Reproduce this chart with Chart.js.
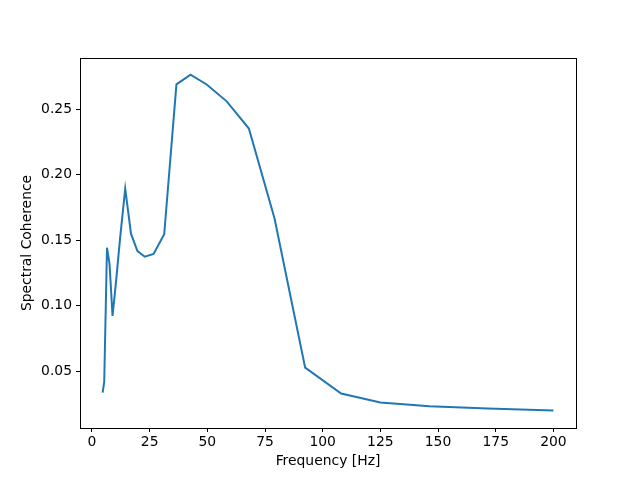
<!DOCTYPE html>
<html>
<head>
<meta charset="utf-8">
<script src="https://cdn.jsdelivr.net/npm/chart.js@4/dist/chart.umd.min.js"></script>
<style>
    body { margin: 0; background: #fff; }
    canvas { display: block; }
</style>
</head>
<body>
<canvas id="coherenceChart" width="640" height="480"></canvas>
<script>
// Frequencies (Hz) and spectral coherence
const frequencies = [4.6, 5.3, 6.5, 7.6, 8.9, 10.4, 12.2, 14.4, 16.9, 19.7, 22.9, 26.7, 31.3,
    36.6, 42.7, 49.7, 58.4, 68.0, 79.1, 92.4, 108.0, 125.0, 146.3, 171.5, 200];
const coherence = [0.0337, 0.0418, 0.1444, 0.1320, 0.0922, 0.118, 0.152, 0.1895, 0.1551,
    0.1418, 0.1375, 0.1396, 0.1546, 0.2691, 0.2765, 0.2690, 0.2561, 0.2353, 0.1668,
    0.0528, 0.0330, 0.0261, 0.0233, 0.0216, 0.0200];

// Tick labels
const xTicks = [0, 25, 50, 75, 100, 125, 150, 175, 200];
const yTicks = [0.05, 0.10, 0.15, 0.20, 0.25];

const font = { family: 'DejaVu Sans', size: 13.9 };

// Draw the box round the plot area
const frameBox = {
    id: 'frameBox',
    afterDatasetsDraw(chart) {
        const { ctx, chartArea } = chart;
        ctx.save();
        ctx.strokeStyle = '#000';
        ctx.lineWidth = 1;
        ctx.strokeRect(Math.round(chartArea.left) + 0.5, Math.round(chartArea.top) + 0.5,
            Math.round(chartArea.right - chartArea.left), Math.round(chartArea.bottom - chartArea.top));
        ctx.restore();
    }
};

const ctx = document.getElementById('coherenceChart').getContext('2d');
new Chart(ctx, {
    type: 'line',
    data: {
        datasets: [{
            data: frequencies.map((f, i) => ({ x: f, y: coherence[i] })),
            borderColor: '#1f77b4',
            borderWidth: 2,
            pointRadius: 0,
            tension: 0,
            fill: false
        }]
    },
    options: {
        responsive: false,
        animation: false,
        devicePixelRatio: 1,
        layout: { padding: { top: 58, right: 64, left: 0, bottom: 0 } },
        scales: {
            x: {
                type: 'linear',
                min: -5.2,
                max: 209.8,
                afterBuildTicks: scale => { scale.ticks = xTicks.map(v => ({ value: v })); },
                afterFit: scale => { scale.height = 52; },
                grid: { drawOnChartArea: false, drawTicks: true, tickLength: 4, color: '#000' },
                border: { display: false },
                ticks: { font, color: '#000', padding: 2, maxRotation: 0 },
                title: { display: true, text: 'Frequency [Hz]', font, color: '#000', padding: { top: 0, bottom: 10 } }
            },
            y: {
                min: 0.0067,
                max: 0.2892,
                afterBuildTicks: scale => { scale.ticks = yTicks.map(v => ({ value: v })); },
                afterFit: scale => { scale.width = 80; },
                grid: { drawOnChartArea: false, drawTicks: true, tickLength: 4, color: '#000' },
                border: { display: false },
                ticks: { font, color: '#000', padding: 4, callback: v => v.toFixed(2) },
                title: { display: true, text: 'Spectral Coherence', font, color: '#000', padding: { top: 19, bottom: 0 } }
            }
        },
        plugins: {
            legend: { display: false },
            tooltip: { enabled: false }
        }
    },
    plugins: [frameBox]
});
</script>
</body>
</html>
